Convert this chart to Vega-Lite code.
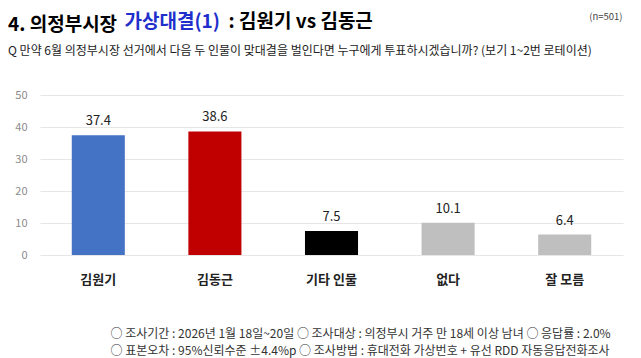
{
  "$schema": "https://vega.github.io/schema/vega-lite/v6.json",
  "width": 583,
  "height": 160,
  "autosize": {"type": "none"},
  "padding": {"left": 40, "top": 95, "right": 18, "bottom": 103},
  "background": "white",
  "title": {
    "text": "4. 의정부시장",
    "subtitle": "Q 만약 6월 의정부시장 선거에서 다음 두 인물이 맞대결을 벌인다면 누구에게 투표하시겠습니까? (보기 1~2번 로테이션)",
    "anchor": "start",
    "frame": "group",
    "dx": -32,
    "offset": -46,
    "font": "Noto Sans CJK KR",
    "fontSize": 19,
    "fontWeight": "bold",
    "color": "#000000",
    "subtitleFont": "Noto Sans CJK KR",
    "subtitleFontSize": 12,
    "subtitleColor": "#222222",
    "subtitlePadding": 11
  },
  "data": {
    "values": [
      {"category": "김원기", "value": 37.4},
      {"category": "김동근", "value": 38.6},
      {"category": "기타 인물", "value": 7.5},
      {"category": "없다", "value": 10.1},
      {"category": "잘 모름", "value": 6.4}
    ]
  },
  "config": {
    "view": {"stroke": null},
    "font": "Noto Sans CJK KR"
  },
  "resolve": {"axis": {"x": "independent", "y": "independent"}},
  "layer": [
    {
      "mark": {"type": "bar"},
      "encoding": {
        "x": {
          "field": "category",
          "type": "nominal",
          "sort": null,
          "scale": {"paddingInner": 0.545, "paddingOuter": 0.2725},
          "axis": {
            "orient": "bottom",
            "labelAngle": 0,
            "labelFont": "Noto Sans CJK KR",
            "labelFontSize": 13,
            "labelFontWeight": "bold",
            "labelColor": "#222222",
            "labelPadding": 18,
            "labelBaseline": "top",
            "ticks": false,
            "domain": false,
            "grid": false,
            "title": [
              "○ 조사기간 : 2026년 1월 18일~20일 ○ 조사대상 : 의정부시 거주 만 18세 이상 남녀 ○ 응답률 : 2.0%",
              "○ 표본오차 : 95%신뢰수준 ±4.4%p ○ 조사방법 : 휴대전화 가상번호 + 유선 RDD 자동응답전화조사"
            ],
            "titleFont": "Noto Sans CJK KR",
            "titleFontSize": 12,
            "titleFontWeight": "normal",
            "titleColor": "#333333",
            "titleAlign": "left",
            "titleAnchor": null,
            "titleBaseline": "alphabetic",
            "titleLineHeight": 17,
            "titleX": 70,
            "titleY": 82
          }
        },
        "y": {
          "field": "value",
          "type": "quantitative",
          "scale": {"domain": [0, 50], "nice": false},
          "axis": {
            "orient": "left",
            "values": [0, 10, 20, 30, 40, 50],
            "labelFont": "Noto Sans CJK KR",
            "labelFontSize": 11,
            "labelColor": "#8c8c8c",
            "labelPadding": 13,
            "ticks": false,
            "domain": false,
            "grid": true,
            "gridColor": "#e6e6e6",
            "gridWidth": 1,
            "title": "(n=501)",
            "titleFont": "Noto Sans CJK KR",
            "titleFontSize": 9.5,
            "titleFontWeight": "normal",
            "titleColor": "#444444",
            "titleAngle": 0,
            "titleAlign": "right",
            "titleBaseline": "alphabetic",
            "titleAnchor": null,
            "titleX": 582,
            "titleY": -76
          }
        },
        "color": {
          "field": "category",
          "type": "nominal",
          "scale": {
            "domain": ["김원기", "김동근", "기타 인물", "없다", "잘 모름"],
            "range": ["#4472C4", "#C00000", "#000000", "#BFBFBF", "#BFBFBF"]
          },
          "legend": null
        }
      }
    },
    {
      "mark": {"type": "text", "baseline": "alphabetic", "dy": -10, "fontSize": 13, "font": "Noto Sans CJK KR", "color": "#222222"},
      "encoding": {
        "x": {
          "field": "category",
          "type": "nominal",
          "sort": null,
          "axis": {
            "orient": "top",
            "labels": false,
            "ticks": false,
            "domain": false,
            "grid": false,
            "title": ": 김원기 vs 김동근",
            "titleFont": "Noto Sans CJK KR",
            "titleFontSize": 19,
            "titleFontWeight": "bold",
            "titleColor": "#000000",
            "titleAlign": "left",
            "titleAnchor": null,
            "titleBaseline": "alphabetic",
            "titleX": 188,
            "titleY": -68
          }
        },
        "y": {
          "field": "value",
          "type": "quantitative",
          "axis": {
            "orient": "right",
            "labels": false,
            "ticks": false,
            "domain": false,
            "grid": false,
            "title": "가상대결(1)",
            "titleFont": "Noto Sans CJK KR",
            "titleFontSize": 19,
            "titleFontWeight": "bold",
            "titleColor": "#1F2FCC",
            "titleAngle": 0,
            "titleAlign": "left",
            "titleAnchor": null,
            "titleBaseline": "alphabetic",
            "titleX": -499,
            "titleY": -68
          }
        },
        "text": {"field": "value", "type": "quantitative", "format": ".1f"},
        "fontWeight": {
          "condition": {"test": "datum.value > 20", "value": "bold"},
          "value": "normal"
        }
      }
    }
  ]
}
